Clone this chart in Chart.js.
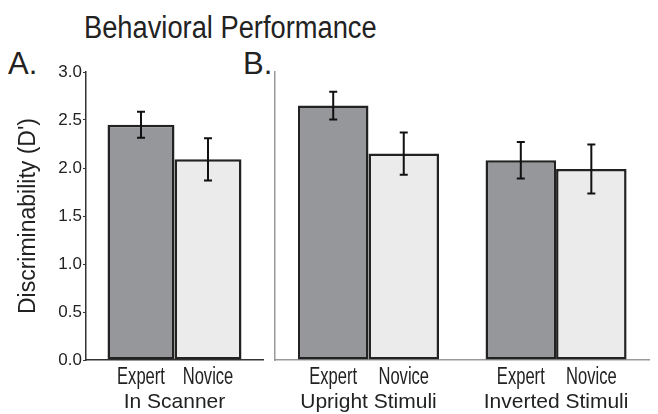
<!DOCTYPE html>
<html>
<head>
<meta charset="utf-8">
<script src="https://cdn.jsdelivr.net/npm/chart.js@4.4.1/dist/chart.umd.min.js"></script>
<style>
  html, body { margin: 0; padding: 0; background: #fff; }
  #wrap { position: relative; width: 658px; height: 414px; overflow: hidden; background: #fff; }
  .lbl { position: absolute; font-family: "Liberation Sans", Arial, sans-serif; color: #222; white-space: nowrap; line-height: 1; }
  .title { transform: scaleX(0.88); transform-origin: 0 0; }
  .box { position: absolute; top: 0; height: 414px; }
</style>
</head>
<body>
<div id="wrap">
  <div class="lbl title" style="left:84px; top:12px; font-size:31px;">Behavioral Performance</div>
  <div class="lbl" style="left:8px; top:48px; font-size:31px;">A.</div>
  <div class="lbl" style="left:243px; top:48px; font-size:31px;">B.</div>
  <div class="box" style="left:0; width:272px;"><canvas id="chartA"></canvas></div>
  <div class="box" style="left:272px; width:386px;"><canvas id="chartB"></canvas></div>
</div>
<script>
// Discriminability (d') per group, with standard-error half widths
const seriesNames = ['Expert', 'Novice'];
const groupsA = ['In Scanner'];
const expertA = [2.45];
const noviceA = [2.09];
const expertErrA = [0.135];
const noviceErrA = [0.22];

const groupsB = ['Upright Stimuli', 'Inverted Stimuli'];
const expertB = [2.65, 2.08];
const noviceB = [2.15, 1.99];
const expertErrB = [0.145, 0.19];
const noviceErrB = [0.22, 0.255];

const yMin = 0, yMax = 3, yStep = 0.5;

const EXPERT_FILL = '#96979b';
const NOVICE_FILL = '#ebebeb';
const BAR_EDGE = '#222222';
const SANS = "'Liberation Sans', Arial, sans-serif";

// Error whiskers with caps, placed through the chart's own y scale
const errorBars = {
  id: 'errorBars',
  afterDatasetsDraw(chart) {
    const { ctx } = chart;
    const y = chart.scales.y;
    ctx.save();
    ctx.strokeStyle = '#111';
    ctx.lineWidth = 2;
    chart.data.datasets.forEach((ds, i) => {
      const meta = chart.getDatasetMeta(i);
      meta.data.forEach((bar, j) => {
        const v = ds.data[j], e = ds.errors[j];
        const top = y.getPixelForValue(v + e);
        const bot = y.getPixelForValue(v - e);
        const cap = 4;
        ctx.beginPath();
        ctx.moveTo(bar.x, top); ctx.lineTo(bar.x, bot);
        ctx.moveTo(bar.x - cap, top); ctx.lineTo(bar.x + cap, top);
        ctx.moveTo(bar.x - cap, bot); ctx.lineTo(bar.x + cap, bot);
        ctx.stroke();
      });
    });
    ctx.restore();
  }
};

// Series name written under each bar, in a condensed setting
const barNames = {
  id: 'barNames',
  afterDraw(chart) {
    const { ctx } = chart;
    const squeeze = 0.72;
    ctx.save();
    ctx.font = '23px ' + SANS;
    ctx.fillStyle = '#222';
    ctx.textAlign = 'center';
    ctx.textBaseline = 'middle';
    chart.data.datasets.forEach((ds, i) => {
      chart.getDatasetMeta(i).data.forEach(bar => {
        ctx.save();
        ctx.translate(bar.x, 378);
        ctx.scale(squeeze, 1);
        ctx.fillText(ds.label, 0, 0);
        ctx.restore();
      });
    });
    ctx.restore();
  }
};

function makeDatasets(expert, novice, expertErr, noviceErr) {
  return [
    { label: seriesNames[0], data: expert, errors: expertErr, backgroundColor: EXPERT_FILL,
      borderColor: BAR_EDGE, borderWidth: 2.5, borderSkipped: false },
    { label: seriesNames[1], data: novice, errors: noviceErr, backgroundColor: NOVICE_FILL,
      borderColor: BAR_EDGE, borderWidth: 2.5, borderSkipped: false }
  ];
}

function makeOptions(cfg) {
  return {
    responsive: true,
    maintainAspectRatio: false,
    animation: false,
    layout: { padding: { top: 72, right: cfg.padRight, left: 0, bottom: 0 } },
    plugins: { legend: { display: false }, tooltip: { enabled: false }, title: { display: false } },
    datasets: { bar: { barPercentage: 1, categoryPercentage: cfg.catPct } },
    scales: {
      x: {
        grid: { display: false, drawTicks: false },
        border: { display: true, color: cfg.axisColor, width: 1.5 },
        ticks: { font: { family: SANS, size: 21 }, color: '#222', padding: 30, maxRotation: 0, autoSkip: false },
        afterFit(s) { s.height = 54; }
      },
      y: {
        min: yMin, max: yMax,
        grid: { drawOnChartArea: false, drawTicks: cfg.showTicks, tickLength: 3, color: cfg.axisColor },
        border: { display: true, color: cfg.axisColor, width: 1.5 },
        ticks: {
          display: cfg.showTicks, stepSize: yStep, padding: 1,
          font: { family: SANS, size: 17 }, color: '#222',
          callback: v => v.toFixed(1)
        },
        title: {
          display: cfg.showTitle, text: "Discriminability (D')",
          font: { family: SANS, size: 23 }, color: '#222', padding: { top: 15, bottom: 0 }
        },
        afterFit(s) { s.width = cfg.yWidth; }
      }
    }
  };
}

new Chart(document.getElementById('chartA'), {
  type: 'bar',
  data: { labels: groupsA, datasets: makeDatasets(expertA, noviceA, expertErrA, noviceErrA) },
  options: makeOptions({ padRight: 9, catPct: 0.757, axisColor: '#333', showTicks: true, showTitle: true, yWidth: 86 }),
  plugins: [errorBars, barNames]
});

new Chart(document.getElementById('chartB'), {
  type: 'bar',
  data: { labels: groupsB, datasets: makeDatasets(expertB, noviceB, expertErrB, noviceErrB) },
  options: makeOptions({ padRight: -4, catPct: 0.752, axisColor: '#999', showTicks: false, showTitle: false, yWidth: 1 }),
  plugins: [errorBars, barNames]
});
</script>
</body>
</html>
